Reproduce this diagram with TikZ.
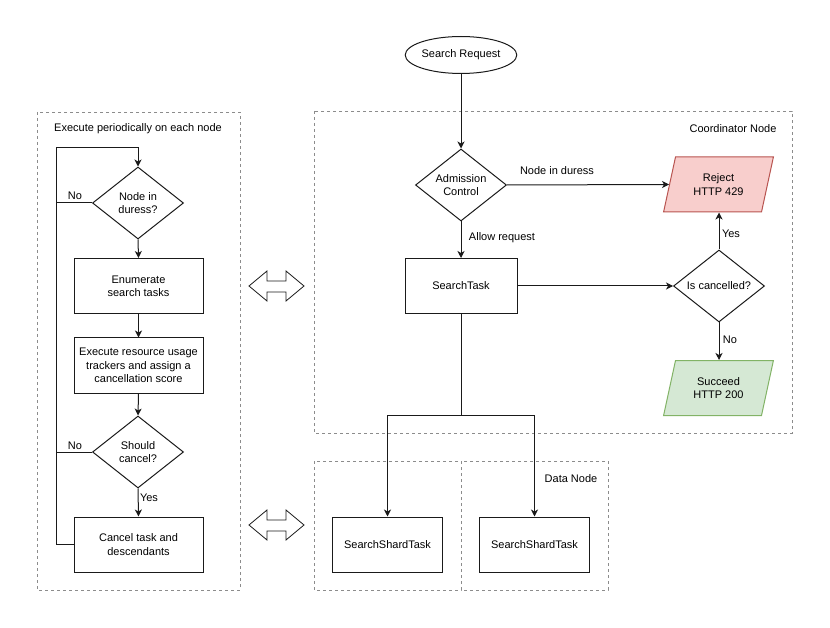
\documentclass[tikz,border=0pt]{standalone}
\usepackage{fontspec}
\setmainfont{Liberation Sans}
\usetikzlibrary{shapes.geometric,arrows.meta}
\definecolor{rejfill}{HTML}{F8CECC}
\definecolor{rejdraw}{HTML}{B85450}
\definecolor{sucfill}{HTML}{D5E8D4}
\definecolor{sucdraw}{HTML}{82B366}
\definecolor{dashgray}{HTML}{8C8C8C}
\definecolor{lnc}{HTML}{1A1A1A}
\begin{document}
\begin{tikzpicture}[x=1pt,y=-1pt,
  every node/.style={font=\fontsize{11}{13.3}\selectfont, text=black},
  box/.style={draw=lnc, line width=1pt, minimum width=129pt, minimum height=55pt, align=center, inner sep=0pt},
  dia/.style={draw=lnc, diamond, aspect=1.26, minimum width=91pt, minimum height=72pt, align=center, inner sep=0pt, line width=1pt},
  para/.style={trapezium, trapezium left angle=72, trapezium right angle=108, trapezium stretches=true, minimum width=110pt, minimum height=55pt, align=center, inner sep=0pt, line width=1pt},
  group/.style={draw=dashgray, line width=0.8pt, dash pattern=on 3pt off 3pt},
  conn/.style={draw=lnc, line width=1pt},
  arr/.style={conn, -{Stealth[length=7pt,width=7pt,inset=2pt]}},
  lbl/.style={inner sep=0pt},
  dbl/.style={draw=lnc, line width=0.8pt, fill=white, line join=miter}
]
\useasboundingbox (0,0) rectangle (830,628);

% groups
\draw[group] (37,112) rectangle (240,590);
\draw[group] (314,111) rectangle (792,433);
\draw[group] (314,461) rectangle (461,590);
\draw[group] (461,461) rectangle (608,590);

\node[lbl] (t1) at (138,129) {Execute periodically on each node};
\node[lbl] (t2) at (733,129) {Coordinator Node};
\node[lbl] (t3) at (571,479) {Data Node};

% left flow
\node[dia] (duress) at (138,203) {Node in\\duress?};
\node[box] (enum) at (138.5,286) {Enumerate\\search tasks};
\node[box] (exec) at (138.5,365.5) {Execute resource usage\\trackers and assign a\\cancellation score};
\node[dia] (should) at (138,452) {Should\\cancel?};
\node[box] (cancel) at (138.5,544.5) {Cancel task and\\descendants};
\coordinate (lt) at (56,148);

\draw[arr] (duress.south) -- (enum.north);
\draw[arr] (enum.south) -- (exec.north);
\draw[arr] (exec.south) -- (should.north);
\draw[arr] (should.south) -- (cancel.north);
\draw[arr] (cancel.west) -| (lt) -| (duress.north);
\draw[conn] (duress.west) -- (duress.west -| lt);
\draw[conn] (should.west) -- (should.west -| lt);
\node[lbl] (no1) at (75,196) {No};
\node[lbl] (no2) at (75,446) {No};
\node[lbl] (yes1) at (149,498) {Yes};

% double arrows
\draw[dbl] (249,286) -- (267,271) -- (267,281) -- (286,281) -- (286,271) -- (304,286) -- (286,301) -- (286,292) -- (267,292) -- (267,301) -- cycle;
\draw[dbl] (249,525) -- (267,510) -- (267,520) -- (286,520) -- (286,510) -- (304,525) -- (286,540) -- (286,531) -- (267,531) -- (267,540) -- cycle;

% coordinator flow
\node[draw=lnc, ellipse, line width=1pt, minimum width=111pt, minimum height=37pt, inner sep=0pt] (req) at (461,55) {Search Request};
\node[dia] (adm) at (461,185) {Admission\\Control};
\node[box, minimum width=112pt] (st) at (461,286) {SearchTask};
\node[dia] (isc) at (719,286) {Is cancelled?};
\node[para, draw=rejdraw, fill=rejfill] (rej) at (718.5,184.5) {Reject\\HTTP 429};
\node[para, draw=sucdraw, fill=sucfill] (suc) at (718.5,388) {Succeed\\HTTP 200};

\draw[arr] (req.south) -- (adm.north);
\draw[arr] (adm.east) -- (rej.west);
\draw[arr] (adm.south) -- (st.north);
\draw[arr] (st.east) -- (isc.west);
\draw[arr] (isc.north) -- (isc.north |- rej.south);
\draw[arr] (isc.south) -- (isc.south |- suc.north);
\node[lbl] (l1) at (557,171) {Node in duress};
\node[lbl] (l2) at (502,238) {Allow request};
\node[lbl] (l3) at (731,234) {Yes};
\node[lbl] (l4) at (730,340) {No};

% data nodes
\node[box, minimum width=110pt] (sh1) at (387.5,544.5) {SearchShardTask};
\node[box, minimum width=110pt] (sh2) at (534.5,544.5) {SearchShardTask};
\coordinate (split) at (461,415);
\draw[conn] (st.south) -- (split);
\draw[arr] (split) -| (sh1.north);
\draw[arr] (split) -| (sh2.north);
\end{tikzpicture}
\end{document}
